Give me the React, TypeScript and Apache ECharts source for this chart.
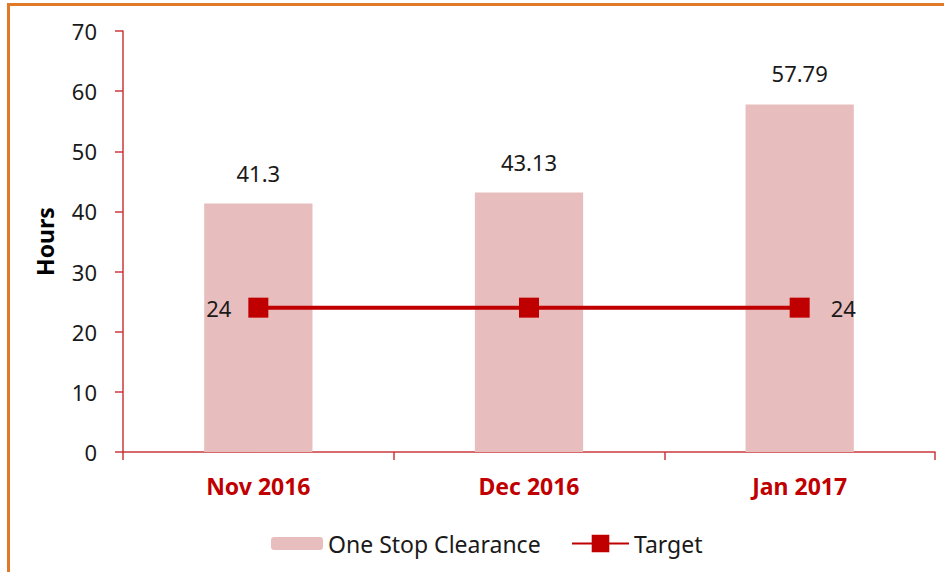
import React, { useEffect, useRef } from "react";
import * as echarts from "echarts";

const categories = ["Nov 2016", "Dec 2016", "Jan 2017"];
const clearanceValues = [41.3, 43.13, 57.79];
const targetValues = [24, 24, 24];
const yTicks = { min: 0, max: 70, interval: 10 };

export default function App() {
  const ref = useRef<HTMLDivElement>(null);
  useEffect(() => {
    if (!ref.current) return;
    const chart = echarts.init(ref.current, undefined, { renderer: "svg" });
    const font = "'Noto Sans', 'Open Sans', sans-serif";
    const axisRed = "#c9393c";
    chart.setOption({
      animation: false,
      backgroundColor: "#ffffff",
      textStyle: { fontFamily: font },
      graphic: [
        { type: "rect", shape: { x: 7, y: 3, width: 937, height: 3 }, style: { fill: "#e07a28" } },
        { type: "rect", shape: { x: 7, y: 3, width: 3, height: 569 }, style: { fill: "#e07a28" } },
      ],
      grid: { left: 123, right: 9, top: 31, bottom: 120, containLabel: false },
      legend: [
        {
          data: ["One Stop Clearance"],
          left: 266,
          top: 527,
          itemWidth: 52,
          itemHeight: 13,
          textStyle: { fontSize: 23, color: "#1a1a1a", fontFamily: font },
        },
        {
          data: ["Target"],
          left: 566,
          top: 527,
          itemWidth: 57,
          itemHeight: 22,
          textStyle: { fontSize: 23, color: "#1a1a1a", fontFamily: font },
        },
      ],
      xAxis: {
        type: "category",
        data: categories,
        axisLine: { lineStyle: { color: axisRed, width: 1.5 } },
        axisTick: { show: true, alignWithLabel: false, length: 8, lineStyle: { color: axisRed, width: 1.5 } },
        axisLabel: {
          margin: 22,
          color: "#c00000",
          fontWeight: "bold",
          fontSize: 23,
          fontFamily: font,
        },
      },
      yAxis: {
        type: "value",
        min: yTicks.min,
        max: yTicks.max,
        interval: yTicks.interval,
        name: "Hours",
        nameLocation: "middle",
        nameRotate: 90,
        nameGap: 67,
        nameTextStyle: { fontSize: 23, fontWeight: "bold", color: "#000", fontFamily: font },
        axisLine: { show: true, lineStyle: { color: axisRed, width: 1.5 } },
        axisTick: { show: true, length: 8, lineStyle: { color: axisRed, width: 1.5 } },
        splitLine: { show: false },
        axisLabel: { margin: 26, fontSize: 22, color: "#1a1a1a", fontFamily: font },
      },
      series: [
        {
          name: "One Stop Clearance",
          type: "bar",
          data: clearanceValues,
          barWidth: "40%",
          itemStyle: { color: "#e8bdbd" },
          label: {
            show: true,
            position: "top",
            distance: 20,
            fontSize: 22,
            color: "#1a1a1a",
            fontFamily: font,
          },
        },
        {
          name: "Target",
          type: "line",
          data: targetValues.map((v, i) => ({
            value: v,
            label: {
              show: i === 0 || i === targetValues.length - 1,
              position: i === 0 ? "left" : "right",
              distance: i === 0 ? 17 : 21,
            },
          })),
          symbol: "rect",
          symbolSize: 20,
          lineStyle: { color: "#c00000", width: 4 },
          itemStyle: { color: "#c00000" },
          label: { fontSize: 22, color: "#1a1a1a", fontFamily: font },
          z: 5,
        },
      ],
    });
    return () => chart.dispose();
  }, []);
  return (
    <div
      ref={ref}
      style={{ position: "fixed", left: 0, top: 0, width: 944, height: 572 }}
    />
  );
}
